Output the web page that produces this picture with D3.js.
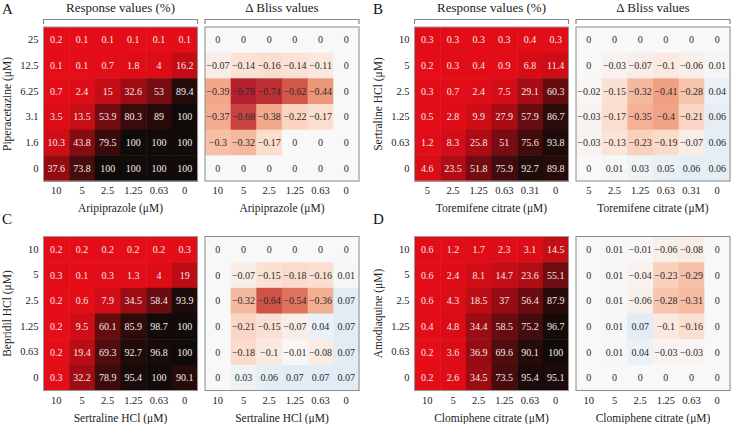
<!DOCTYPE html>
<html><head><meta charset="utf-8">
<script src="https://cdn.jsdelivr.net/npm/d3@7"></script>
<style>
body{margin:0;background:#fff;}
svg, svg text{font-family:"Liberation Serif","DejaVu Serif",serif !important;}
</style></head>
<body><svg id="chart" width="731" height="424" font-family="Liberation Serif, serif"></svg>
<script>
// ---------- Data ----------
const panelLetters = ["A", "B", "C", "D"];
const rowDrugs = ["Piperacetazine", "Sertraline HCl", "Bepridil HCl", "Amodiaquine"];
const colDrugs = ["Aripiprazole", "Toremifene citrate", "Sertraline HCl", "Clomiphene citrate"];

const rowTicksA = ["25", "12.5", "6.25", "3.1", "1.6", "0"];
const colTicksA = ["10", "5", "2.5", "1.25", "0.63", "0"];
const rowTicksB = ["10", "5", "2.5", "1.25", "0.63", "0"];
const colTicksB = ["5", "2.5", "1.25", "0.63", "0.31", "0"];
const rowTicksC = ["10", "5", "2.5", "1.25", "0.63", "0"];
const colTicksC = ["10", "5", "2.5", "1.25", "0.63", "0"];
const rowTicksD = ["10", "5", "2.5", "1.25", "0.63", "0"];
const colTicksD = ["10", "5", "2.5", "1.25", "0.63", "0"];

const responseA = [
  [0.2, 0.1, 0.1, 0.1, 0.1, 0.1],
  [0.1, 0.1, 0.7, 1.8, 4, 16.2],
  [0.7, 2.4, 15, 32.6, 53, 89.4],
  [3.5, 13.5, 53.9, 80.3, 89, 100],
  [10.3, 43.8, 79.5, 100, 100, 100],
  [37.6, 73.8, 100, 100, 100, 100]
];
const blissA = [
  [0, 0, 0, 0, 0, 0],
  [-0.07, -0.14, -0.16, -0.14, -0.11, 0],
  [-0.39, -0.78, -0.74, -0.62, -0.44, 0],
  [-0.37, -0.68, -0.38, -0.22, -0.17, 0],
  [-0.3, -0.32, -0.17, 0, 0, 0],
  [0, 0, 0, 0, 0, 0]
];
const responseB = [
  [0.3, 0.3, 0.3, 0.3, 0.4, 0.3],
  [0.2, 0.3, 0.4, 0.9, 6.8, 11.4],
  [0.3, 0.7, 2.4, 7.5, 29.1, 60.3],
  [0.5, 2.8, 9.9, 27.9, 57.9, 86.7],
  [1.2, 8.3, 25.8, 51, 75.6, 93.8],
  [4.6, 23.5, 51.8, 75.9, 92.7, 89.8]
];
const blissB = [
  [0, 0, 0, 0, 0, 0],
  [0, -0.03, -0.07, -0.1, -0.06, 0.01],
  [-0.02, -0.15, -0.32, -0.41, -0.28, 0.04],
  [-0.03, -0.17, -0.35, -0.4, -0.21, 0.06],
  [-0.03, -0.13, -0.23, -0.19, -0.07, 0.06],
  [0, 0.01, 0.03, 0.05, 0.06, 0.06]
];
const responseC = [
  [0.2, 0.2, 0.2, 0.2, 0.2, 0.3],
  [0.3, 0.1, 0.3, 1.3, 4, 19],
  [0.2, 0.6, 7.9, 34.5, 58.4, 93.9],
  [0.2, 9.5, 60.1, 85.9, 98.7, 100],
  [0.2, 19.4, 69.3, 92.7, 96.8, 100],
  [0.3, 32.2, 78.9, 95.4, 100, 90.1]
];
const blissC = [
  [0, 0, 0, 0, 0, 0],
  [0, -0.07, -0.15, -0.18, -0.16, 0.01],
  [0, -0.32, -0.64, -0.54, -0.36, 0.07],
  [0, -0.21, -0.15, -0.07, 0.04, 0.07],
  [0, -0.18, -0.1, -0.01, -0.08, 0.07],
  [0, 0.03, 0.06, 0.07, 0.07, 0.07]
];
const responseD = [
  [0.6, 1.2, 1.7, 2.3, 3.1, 14.5],
  [0.6, 2.4, 8.1, 14.7, 23.6, 55.1],
  [0.6, 4.3, 18.5, 37, 56.4, 87.9],
  [0.4, 4.8, 34.4, 58.5, 75.2, 96.7],
  [0.2, 3.6, 36.9, 69.6, 90.1, 100],
  [0.2, 2.6, 34.5, 73.5, 95.4, 95.1]
];
const blissD = [
  [0, 0.01, -0.01, -0.06, -0.08, 0],
  [0, 0.01, -0.04, -0.23, -0.29, 0],
  [0, 0.01, -0.06, -0.28, -0.31, 0],
  [0, 0.01, 0.07, -0.1, -0.16, 0],
  [0, 0.01, 0.04, -0.03, -0.03, 0],
  [0, 0, 0, 0, 0, 0]
];

const headerLabels = ["Response values (%)", "\u0394 Bliss values"];

// ---------- Layout ----------
const panels = [
  {letter: panelLetters[0], rows: rowTicksA, cols: colTicksA, resp: responseA, bliss: blissA, rowDrug: rowDrugs[0], colDrug: colDrugs[0], x: 0, y: 0, header: true},
  {letter: panelLetters[1], rows: rowTicksB, cols: colTicksB, resp: responseB, bliss: blissB, rowDrug: rowDrugs[1], colDrug: colDrugs[1], x: 371, y: 0, header: true},
  {letter: panelLetters[2], rows: rowTicksC, cols: colTicksC, resp: responseC, bliss: blissC, rowDrug: rowDrugs[2], colDrug: colDrugs[2], x: 0, y: 209.5, header: false},
  {letter: panelLetters[3], rows: rowTicksD, cols: colTicksD, resp: responseD, bliss: blissD, rowDrug: rowDrugs[3], colDrug: colDrugs[3], x: 371, y: 209.5, header: false}
];

const FONT = "Liberation Serif, DejaVu Serif, serif";
const cellSize = 25.67;
const mapSize = cellSize * 6;
const respLeft = 43.5, blissLeft = 205, mapTop = 27;

const respColor = d3.scaleLinear().domain([0, 100]).range(["#e40d18", "#100b09"]).interpolate(d3.interpolateRgb).clamp(true);
const blissColor = d3.scaleLinear()
  .domain([-0.8, -0.6, -0.4, -0.2, 0, 0.1])
  .range(["#b2182b", "#d6604d", "#f1a485", "#fbd9c7", "#f8f8f8", "#d8e7f2"])
  .clamp(true);
const fmt = v => String(v).replace("-", "\u2212");

const svg = d3.select("#chart");

panels.forEach(p => {
  const g = svg.append("g").attr("transform", `translate(${p.x},${p.y})`).attr("font-family", FONT);

  g.append("text").attr("x", 2).attr("y", 14).attr("font-family", FONT)
    .attr("font-size", 15).attr("fill", "#111").text(p.letter);

  const y = d3.scaleBand().domain(p.rows).range([mapTop, mapTop + mapSize]);

  [[respLeft, p.resp, respColor, "#f3e9e9", 0], [blissLeft, p.bliss, blissColor, "#2a2a2a", 1]].forEach(([left, data, color, txtColor, k]) => {
    const x = d3.scaleBand().domain(p.cols).range([left, left + mapSize]);
    const cells = [];
    data.forEach((row, i) => row.forEach((v, j) => cells.push({r: p.rows[i], c: p.cols[j], v})));

    g.append("g").selectAll("rect").data(cells).join("rect")
      .attr("x", d => x(d.c)).attr("y", d => y(d.r))
      .attr("width", x.bandwidth() + 0.5).attr("height", y.bandwidth() + 0.5)
      .attr("fill", d => color(d.v));

    g.append("g").selectAll("text").data(cells).join("text")
      .attr("x", d => x(d.c) + x.bandwidth() / 2)
      .attr("y", d => y(d.r) + y.bandwidth() / 2)
      .attr("dy", "0.35em").attr("text-anchor", "middle")
      .attr("font-family", FONT)
      .attr("font-size", 10).attr("fill", txtColor)
      .text(d => fmt(d.v));

    g.append("rect").attr("x", left).attr("y", mapTop)
      .attr("width", mapSize).attr("height", mapSize)
      .attr("fill", "none").attr("stroke", k ? "#8a8a8a" : "#9a9a9a").attr("stroke-width", 1);

    const ax = g.append("g").attr("transform", `translate(0,${mapTop + mapSize})`)
      .call(d3.axisBottom(x).tickSize(0).tickPadding(6));
    ax.attr("font-family", FONT);
    ax.select(".domain").remove();
    ax.selectAll("text").attr("font-size", 10.5).attr("fill", "#222")
      .attr("font-family", FONT);

    g.append("text").attr("x", left + mapSize / 2).attr("y", mapTop + mapSize + 31)
      .attr("text-anchor", "middle").attr("font-size", 11.5).attr("fill", "#222")
      .attr("font-family", FONT)
      .text(p.colDrug + " (\u03BCM)");

    if (p.header) {
      g.append("path")
        .attr("d", `M${left},24V19.5H${left + mapSize}V24`)
        .attr("fill", "none").attr("stroke", "#888").attr("stroke-width", 1.2);
      g.append("text").attr("x", left + mapSize / 2).attr("y", 12)
        .attr("text-anchor", "middle").attr("font-size", 13).attr("fill", "#222")
        .attr("font-family", FONT)
        .text(headerLabels[k]);
    }
  });

  const ay = g.append("g").attr("transform", `translate(${respLeft},0)`)
    .call(d3.axisLeft(y).tickSize(0).tickPadding(5));
  ay.attr("font-family", FONT);
  ay.select(".domain").remove();
  ay.selectAll("text").attr("font-size", 10.5).attr("fill", "#222")
    .attr("font-family", FONT);

  g.append("text")
    .attr("transform", `translate(11,${mapTop + mapSize / 2}) rotate(-90)`)
    .attr("text-anchor", "middle").attr("font-size", 11.5).attr("fill", "#222")
    .attr("font-family", FONT)
    .text(p.rowDrug + " (\u03BCM)");
});
</script></body></html>
